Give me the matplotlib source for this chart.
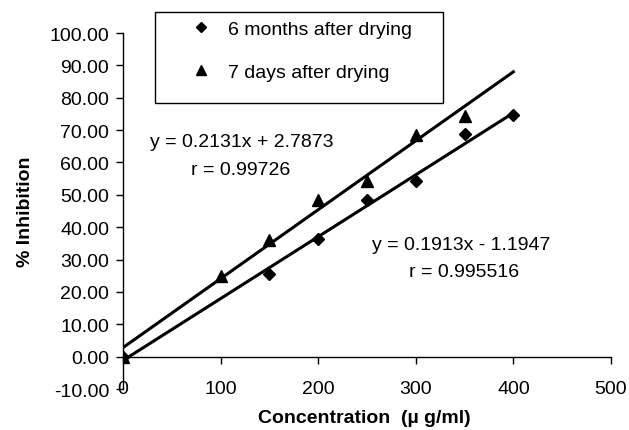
import matplotlib.pyplot as plt
from matplotlib.patches import Rectangle
import numpy as np

plt.rcParams['font.family'] = ['Liberation Sans', 'DejaVu Sans']

# data
conc_6m = [0, 150, 200, 250, 300, 350, 400]
inhib_6m = [0.0, 25.4, 36.3, 48.4, 54.3, 68.7, 74.6]
conc_7d = [0, 100, 150, 200, 250, 300, 350]
inhib_7d = [0.0, 25.0, 35.9, 48.3, 54.2, 68.4, 74.3]

fit_6m = (0.1913, -1.1947)
fit_7d = (0.2131, 2.7873)
fit_x = [0, 400]

xticks = [0, 100, 200, 300, 400, 500]
yticks = [-10, 0, 10, 20, 30, 40, 50, 60, 70, 80, 90, 100]

FS = 14

fig = plt.figure(figsize=(6.29, 4.31), dpi=100)
ax = fig.add_axes([0.1955, 0.0951, 0.7759, 0.8259])

fx = np.array(fit_x)
ax.plot(fx, fit_7d[0] * fx + fit_7d[1], color='black', lw=2.2)
ax.plot(fx, fit_6m[0] * fx + fit_6m[1], color='black', lw=2.2)
ax.plot(conc_6m, inhib_6m, 'D', color='black', ms=6.5, label='6 months after drying')
ax.plot(conc_7d, inhib_7d, '^', color='black', ms=8.5, label='7 days after drying')

ax.set_xlim(0, 500)
ax.set_ylim(-10, 100)
ax.set_xticks(xticks)
ax.set_yticks(yticks)
ax.set_yticklabels(['%.2f' % v for v in yticks])

ax.spines['top'].set_visible(False)
ax.spines['right'].set_visible(False)
ax.spines['bottom'].set_position(('data', 0))
for s in ('left', 'bottom'):
    ax.spines[s].set_linewidth(1.0)
ax.spines['left'].set_clip_on(False)

ax.tick_params(axis='y', direction='out', length=5, width=1, pad=5, labelsize=FS)
ax.tick_params(axis='x', direction='out', length=5, width=1, pad=12, labelsize=FS)

ax.set_xlabel('Concentration  (\u00b5 g/ml)', fontsize=FS, fontweight='bold')
ax.set_ylabel('% Inhibition', fontsize=FS, fontweight='bold')
ax.xaxis.set_label_coords(0.494, -0.079)
ax.yaxis.set_label_coords(-0.2, 0.5)
ax.xaxis.label.set_va('center')
ax.yaxis.label.set_va('center')

ax.text(122, 66.4, 'y = 0.2131x + 2.7873', ha='center', va='center', fontsize=FS)
ax.text(121, 57.7, 'r = 0.99726', ha='center', va='center', fontsize=FS)
ax.text(347, 34.6, 'y = 0.1913x - 1.1947', ha='center', va='center', fontsize=FS)
ax.text(349, 26.2, 'r = 0.995516', ha='center', va='center', fontsize=FS)

# legend frame drawn separately so its size matches
ax.add_patch(Rectangle((0.066, 0.803), 0.590, 0.256, transform=ax.transAxes,
                       fill=False, ec='black', lw=1.0, clip_on=False, zorder=5))
leg = ax.legend(loc='upper left', bbox_to_anchor=(0.124, 1.058), frameon=False,
                fontsize=FS, labelspacing=1.3, handletextpad=0.9,
                borderaxespad=0, handlelength=1.0, numpoints=1, markerscale=0.85)

fig.savefig('out.png', dpi=100)
